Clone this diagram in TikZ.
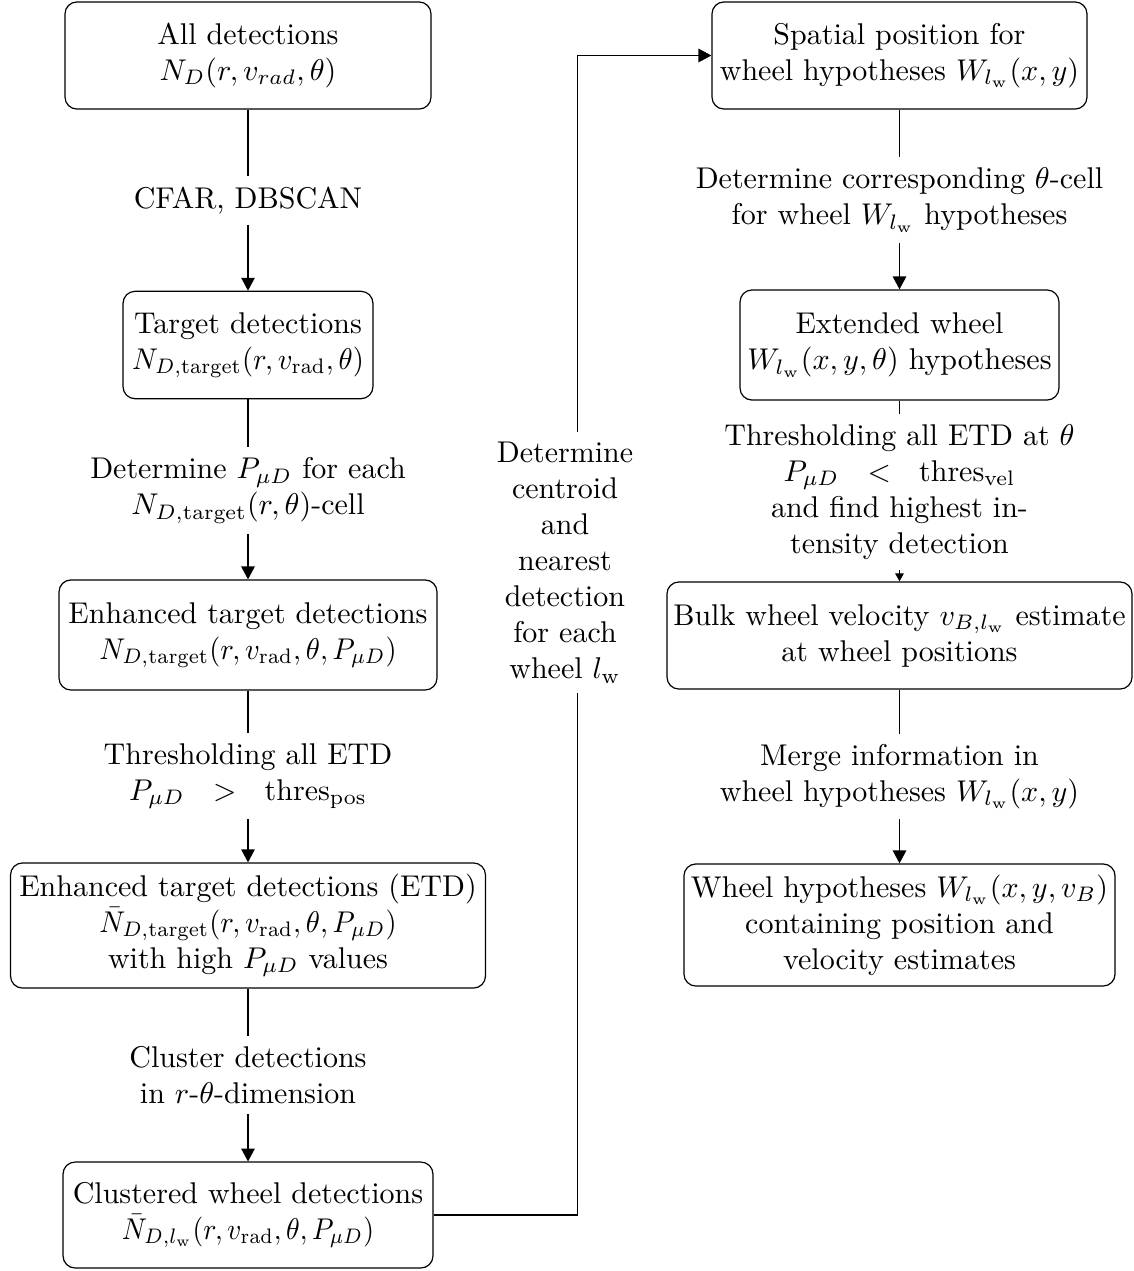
\documentclass[tikz,border=0pt]{standalone}
\usepackage{graphicx}
\usetikzlibrary{arrows.meta}
\newcommand{\sqz}[2][0.95]{\scalebox{#1}[1]{$#2$}}
\begin{document}
\begin{tikzpicture}[x=0.3333pt,y=-0.3333pt,
  box/.style={draw, rounded corners=4pt, align=center, inner xsep=1pt, inner ysep=3.33pt},
  lab/.style={align=center, inner sep=3.33pt},
  arr/.style={-{Triangle[length=4.3pt,width=4.5pt]}},
  smallarr/.style={-{Triangle[length=2.7pt,width=2.9pt]}},
  line width=0.4pt]
\useasboundingbox (0,0) rectangle (1133,1271);
% left column
\node[box, minimum width=122pt, minimum height=35.7pt] (A) at (248,55.5)
  {All detections\\ $N_D(r,v_{rad},\theta)$};
\node[box, minimum width=83.3pt, minimum height=35.8pt] (B) at (248,345)
  {Target detections\\ \sqz{N_{D,\mathrm{target}}(r,v_{\mathrm{rad}},\theta)}};
\node[box, minimum width=126pt, minimum height=36.7pt] (C) at (248,635)
  {Enhanced target detections\\ \sqz{N_{D,\mathrm{target}}(r,v_{\mathrm{rad}},\theta,P_{\mu D})}};
\node[box, minimum width=158.3pt, minimum height=41.7pt] (D) at (248,925.5)
  {Enhanced target detections (ETD)\\ \sqz{\bar{N}_{D,\mathrm{target}}(r,v_{\mathrm{rad}},\theta,P_{\mu D})}\\ with high $P_{\mu D}$ values};
\node[box, minimum width=123.3pt, minimum height=35.3pt] (E) at (248,1215)
  {Clustered wheel detections\\ \sqz[0.92]{\bar{N}_{D,l_\mathrm{w}}(r,v_{\mathrm{rad}},\theta,P_{\mu D})}};
% left labels
\node[lab] (L1) at (248,200.5) {CFAR, DBSCAN};
\node[lab] (L2) at (248,490.5) {Determine $P_{\mu D}$ for each\\ $N_{D,\mathrm{target}}(r,\theta)$-cell};
\node[lab] (L3) at (248,776) {Thresholding all ETD\\ $P_{\mu D}\ \ >\ \ \mathrm{thres}_{\mathrm{pos}}$};
\node[lab] (L4) at (248,1075) {Cluster detections\\ in $r$-$\theta$-dimension};
% right column
\node[box, minimum width=125pt, minimum height=35.7pt] (F) at (899.5,55.5)
  {Spatial position for\\ wheel hypotheses $W_{l_\mathrm{w}}(x,y)$};
\node[box, minimum width=106.3pt, minimum height=36.7pt] (G) at (899.5,345)
  {Extended wheel\\ $W_{l_\mathrm{w}}(x,y,\theta)$ hypotheses};
\node[box, minimum width=155pt, minimum height=35.7pt] (H) at (899.5,635.5)
  {Bulk wheel velocity $v_{B,l_\mathrm{w}}$ estimate\\ at wheel positions};
\node[box, minimum width=143.7pt, minimum height=40.7pt] (I) at (899.5,925)
  {Wheel hypotheses $W_{l_\mathrm{w}}(x,y,v_B)$\\ containing position and\\ velocity estimates};
% right labels
\node[lab] (R1) at (899.5,200) {Determine corresponding $\theta$-cell\\ for wheel $W_{l_\mathrm{w}}$ hypotheses};
\node[lab] (R2) at (899.5,492) {Thresholding all ETD at $\theta$\\ $P_{\mu D}\ \ <\ \ \mathrm{thres}_{\mathrm{vel}}$\\ and find highest in-\\ tensity detection};
\node[lab] (R3) at (899.5,776.5) {Merge information in\\ wheel hypotheses $W_{l_\mathrm{w}}(x,y)$};
% connectors left
\draw (A) -- (L1); \draw[arr] (L1) -- (B);
\draw (B) -- (L2); \draw[arr] (L2) -- (C);
\draw (C) -- (L3); \draw[arr] (L3) -- (D);
\draw (D) -- (L4); \draw[arr] (L4) -- (E);
% connectors right
\draw (F) -- (R1); \draw[arr] (R1) -- (G);
\draw (G) -- (R2); \draw[smallarr] (R2) -- (H);
\draw (H) -- (R3); \draw[arr] (R3) -- (I);
% middle connector
\coordinate (mx) at (577.5,562.5);
\draw[arr] (E.east) -| (mx) |- (F.west);
\node[lab, fill=white] (M) at (565,562.5)
  {Determine\\ centroid\\ and\\ nearest\\ detection\\ for each\\ wheel $l_\mathrm{w}$};
\end{tikzpicture}
\end{document}
